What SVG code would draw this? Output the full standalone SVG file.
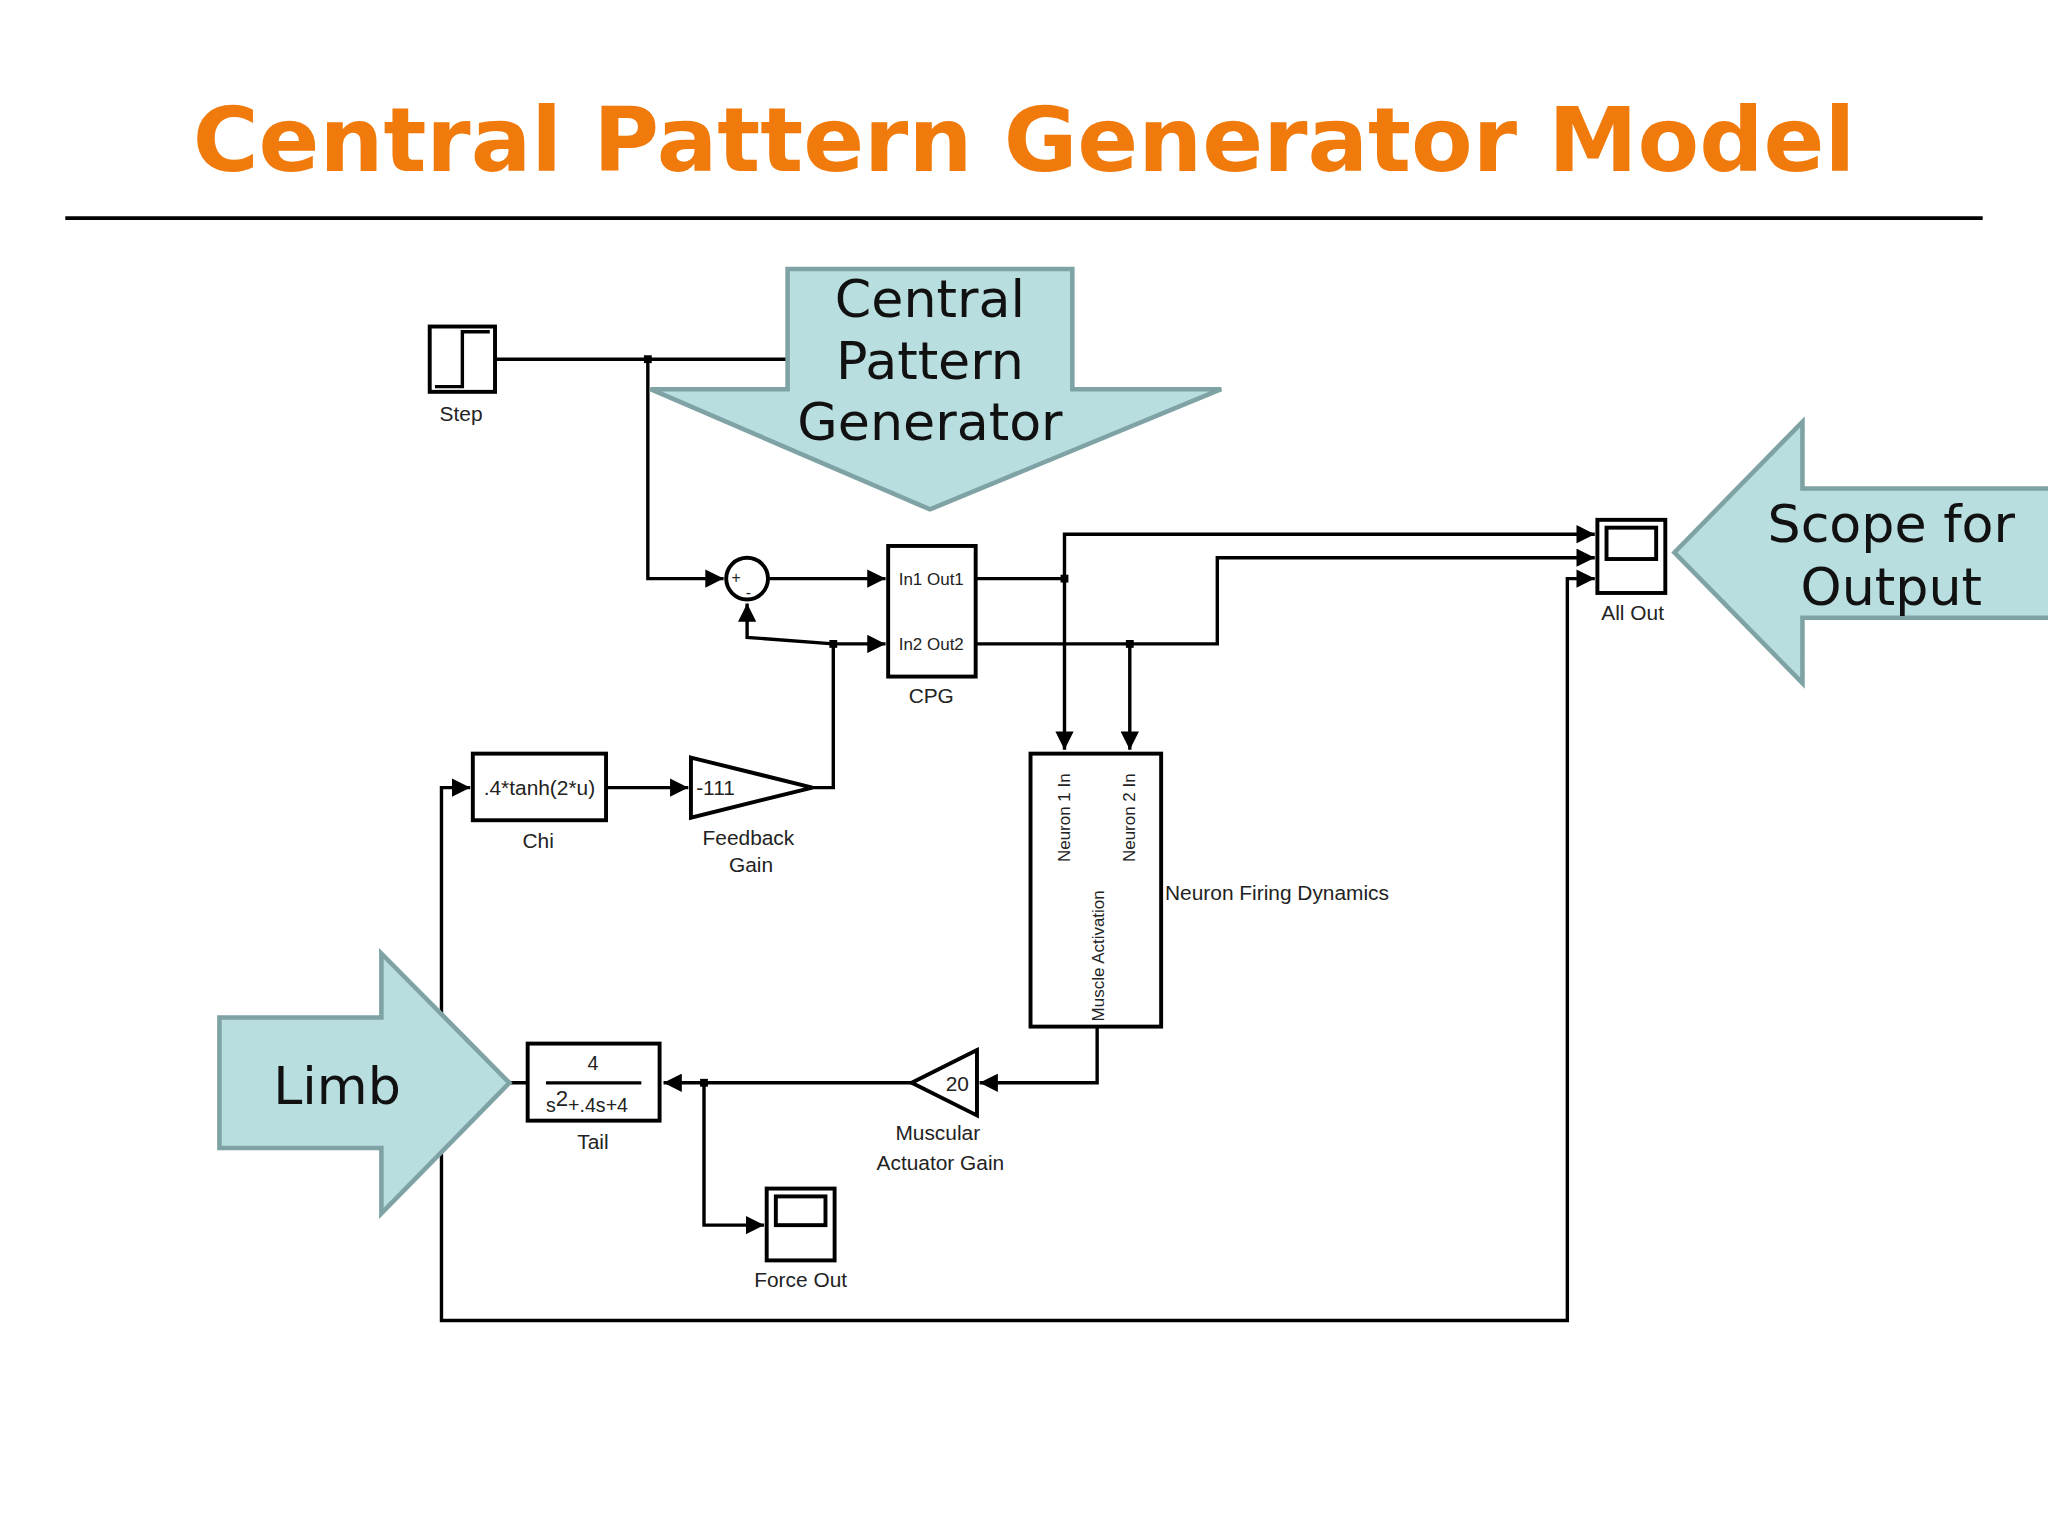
<svg xmlns="http://www.w3.org/2000/svg" width="2048" height="1534" viewBox="0 0 2048 1534">
<defs>
<style>
.w{fill:none;stroke:#000;stroke-width:2.6}
.b{fill:#fff;stroke:#000;stroke-width:3}
.t{font-family:"Liberation Sans",Arial,sans-serif;fill:#222}
.c{fill:#B9DEDF;stroke:#7FA3A5;stroke-width:3.5}
.ct{font-family:"DejaVu Sans",Verdana,sans-serif;fill:#111;font-size:40px;text-anchor:middle}
</style>
<marker id="ah" viewBox="0 0 10 10" refX="10" refY="5" markerWidth="14" markerHeight="14" orient="auto" markerUnits="userSpaceOnUse"><path d="M0,0L10,5L0,10z" fill="#000"/></marker>
</defs>
<rect width="2048" height="1534" fill="#fff"/>
<g transform="scale(1.30612)">
<text x="784" y="131" text-anchor="middle" font-family="DejaVu Sans,Verdana,sans-serif" font-weight="bold" font-size="68" fill="#F07A0C" textLength="1273" lengthAdjust="spacingAndGlyphs">Central Pattern Generator Model</text>
<line x1="50" y1="167" x2="1518" y2="167" stroke="#000" stroke-width="3"/>

<g id="connectors">
<path class="w" d="M379,275H603"/>
<path class="w" d="M496,275V443H554" marker-end="url(#ah)"/>
<path class="w" d="M589,443H678" marker-end="url(#ah)"/>
<path class="w" d="M622,603H638V493H678" marker-end="url(#ah)"/>
<path class="w" d="M638,493L572,488V462" marker-end="url(#ah)"/>
<path class="w" d="M747,443H815"/>
<path class="w" d="M815,443V409H1221" marker-end="url(#ah)"/>
<path class="w" d="M815,443V574" marker-end="url(#ah)"/>
<path class="w" d="M747,493H932V427H1221" marker-end="url(#ah)"/>
<path class="w" d="M865,493V574" marker-end="url(#ah)"/>
<path class="w" d="M404,829H338V1011H1200V443H1221" marker-end="url(#ah)"/>
<path class="w" d="M338,829V603H360" marker-end="url(#ah)"/>
<path class="w" d="M464,603H527" marker-end="url(#ah)"/>
<path class="w" d="M840,786V829H750" marker-end="url(#ah)"/>
<path class="w" d="M698,829H508" marker-end="url(#ah)"/>
<path class="w" d="M539,829V938H585" marker-end="url(#ah)"/>
<g fill="#000"><rect x="493" y="272" width="6" height="6"/><rect x="812" y="440" width="6" height="6"/><rect x="862" y="490" width="6" height="6"/><rect x="635" y="490" width="6" height="6"/><rect x="536" y="826" width="6" height="6"/></g>
</g>

<g id="step"><rect class="b" x="329" y="250" width="50" height="50"/><path class="w" d="M333,296H354V254H375"/><text class="t" x="353" y="322" font-size="16" text-anchor="middle">Step</text></g>
<g id="sum"><circle class="b" cx="572" cy="443" r="16"/><text class="t" x="560" y="446" font-size="12">+</text><text class="t" x="571" y="458" font-size="12">-</text></g>
<g id="cpg"><rect class="b" x="680" y="418" width="67" height="100"/><text class="t" x="713" y="448" font-size="13" text-anchor="middle">In1 Out1</text><text class="t" x="713" y="498" font-size="13" text-anchor="middle">In2 Out2</text><text class="t" x="713" y="538" font-size="16" text-anchor="middle">CPG</text></g>
<g id="allout"><rect class="b" x="1223" y="398" width="52" height="56"/><rect class="b" x="1230" y="404" width="38" height="24"/><text class="t" x="1250" y="475" font-size="16" text-anchor="middle">All Out</text></g>
<g id="chi"><rect class="b" x="362" y="577" width="102" height="51"/><text class="t" x="413" y="609" font-size="16" text-anchor="middle">.4*tanh(2*u)</text><text class="t" x="412" y="649" font-size="16" text-anchor="middle">Chi</text></g>
<g id="fbgain"><path class="b" d="M529,580L622,603L529,626z"/><text class="t" x="533" y="609" font-size="16">-111</text><text class="t" x="573" y="647" font-size="16" text-anchor="middle">Feedback</text><text class="t" x="575" y="668" font-size="16" text-anchor="middle">Gain</text></g>
<g id="neuron"><rect class="b" x="789" y="577" width="100" height="209"/>
<text class="t" font-size="13" transform="translate(819,660) rotate(-90)">Neuron  1  In</text>
<text class="t" font-size="13" transform="translate(869,660) rotate(-90)">Neuron  2  In</text>
<text class="t" font-size="13" transform="translate(845,782) rotate(-90)">Muscle  Activation</text>
<text class="t" x="892" y="689" font-size="16">Neuron Firing Dynamics</text></g>
<g id="musgain"><path class="b" d="M748,804L698,829L748,854z"/><text class="t" x="724" y="835" font-size="16">20</text><text class="t" x="718" y="873" font-size="16" text-anchor="middle">Muscular</text><text class="t" x="720" y="896" font-size="16" text-anchor="middle">Actuator Gain</text></g>
<g id="tail"><rect class="b" x="404" y="799" width="101" height="59"/><text class="t" x="454" y="819" font-size="15" text-anchor="middle">4</text><line x1="418" y1="829" x2="491" y2="829" stroke="#000" stroke-width="2.5"/><text class="t" x="418" y="851" font-size="15">s<tspan font-size="17" dy="-4">2</tspan><tspan dy="4">+.4s+4</tspan></text><text class="t" x="454" y="880" font-size="16" text-anchor="middle">Tail</text></g>
<g id="forceout"><rect class="b" x="587" y="910" width="52" height="55"/><rect class="b" x="594" y="916" width="38" height="22"/><text class="t" x="613" y="985" font-size="16" text-anchor="middle">Force Out</text></g>

<g id="cpg-callout"><path class="c" d="M603,206H821V298H935L712,390L498,298H603z"/><text class="ct" x="712" y="243">Central</text><text class="ct" x="712" y="290">Pattern</text><text class="ct" x="712" y="337">Generator</text></g>
<g id="scope-callout"><path class="c" d="M1282,423L1380,323V374H1580V473H1380V523z"/><text class="ct" x="1448" y="415">Scope for</text><text class="ct" x="1448" y="463">Output</text></g>
<g id="limb-callout"><path class="c" d="M168,779H292V730L390,829L292,929V879H168z"/><text class="ct" x="258" y="845">Limb</text></g>
</g>
</svg>
